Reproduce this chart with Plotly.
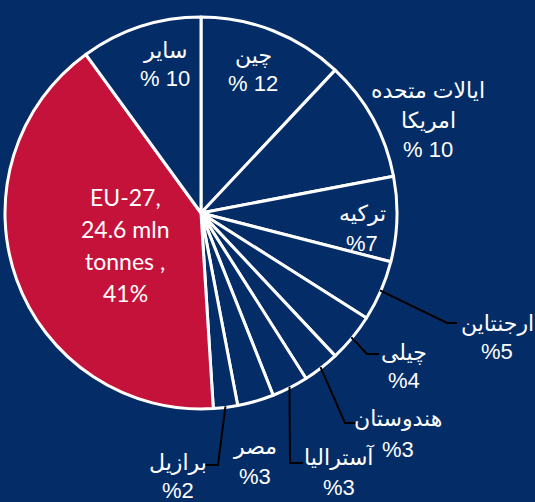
import math
import plotly.graph_objects as go

# ---- data ----
names = ["چین", "ایالات متحده امریکا", "ترکیه", "ارجنتاین", "چیلی", "هندوستان",
         "آسترالیا", "مصر", "برازیل", "EU-27", "سایر"]
values = [12, 10, 7, 5, 4, 3, 3, 3, 2, 41, 10]
label_lines = [
    ["چین", "% 12"],
    ["ایالات متحده", "امریکا", "% 10"],
    ["ترکیه", "%7"],
    ["ارجنتاین", "%5"],
    ["چیلی", "%4"],
    ["هندوستان", "%3"],
    ["آسترالیا", "%3"],
    ["مصر", "%3"],
    ["برازیل", "%2"],
    ["EU-27,", "24.6 mln", "tonnes ,", "41%"],
    ["سایر", "% 10"],
]

# ---- styling / layout ----
W, H = 535, 502
BG = "#042d68"
NAVY = "#042d68"
RED = "#c5123a"
colors = [RED if n == "EU-27" else NAVY for n in names]

CX, CY, R = 201, 213, 196  # pixel center and radius of the pie

def px(x):
    return x / W

def py(y):
    return 1 - y / H

fig = go.Figure(go.Pie(
    labels=names, values=values, sort=False, direction="clockwise", rotation=0,
    marker=dict(colors=colors, line=dict(color="white", width=3)),
    textinfo="none", hoverinfo="label+percent",
    domain=dict(x=[px(CX - R), px(CX + R)], y=[py(CY + R), py(CY - R)]),
))

# label placement (pixel centre of first line, line spacing)
label_pos = {
    "چین": (253, 55, 29),
    "ایالات متحده امریکا": (428, 90, 30),
    "ترکیه": (362, 213, 30),
    "ارجنتاین": (497, 323, 28),
    "چیلی": (404, 352, 28),
    "هندوستان": (398, 418, 31),
    "آسترالیا": (339, 457, 30),
    "مصر": (255, 446, 30),
    "برازیل": (178, 462, 28),
    "EU-27": (125, 197, 32),
    "سایر": (165, 50, 29),
}

ARIAL = "Liberation Sans, Arial, DejaVu Sans, sans-serif"
annotations = []
for n, lines in zip(names, label_lines):
    x, y0, dy = label_pos[n]
    is_eu = n == "EU-27"
    for i, t in enumerate(lines):
        annotations.append(dict(
            x=px(x), y=py(y0 + i * dy), xref="paper", yref="paper",
            text=t, showarrow=False, xanchor="center", yanchor="middle",
            font=dict(family="Lato, Open Sans, sans-serif" if is_eu else ARIAL,
                      size=23 if is_eu else 22, color="white"),
        ))

# leader lines: start on the slice edge (computed from data), elbow to label
elbows = {
    "ارجنتاین": [(447, 323), (457, 323)],
    "چیلی": [(367, 354), (379, 354)],
    "هندوستان": [(345, 423), (358, 423)],
    "آسترالیا": [(290, 463), (303, 463)],
    "برازیل": [(218, 465), (205, 465)],
}
total = sum(values)
cum = 0
shapes = []
for n, v in zip(names, values):
    mid = (cum + v / 2) / total * 2 * math.pi
    cum += v
    if n in elbows:
        sx = CX + R * 0.995 * math.sin(mid)
        sy = CY - R * 0.995 * math.cos(mid)
        pts = [(sx, sy)] + elbows[n]
        path = "M " + " L ".join(f"{px(a)},{py(b)}" for a, b in pts)
        shapes.append(dict(type="path", xref="paper", yref="paper", path=path,
                           line=dict(color="black", width=2)))

fig.update_layout(
    width=W, height=H, margin=dict(l=0, r=0, t=0, b=0),
    paper_bgcolor=BG, plot_bgcolor=BG, showlegend=False,
    annotations=annotations, shapes=shapes,
)

fig.write_html(
    "out.html",
    config={"displayModeBar": False},
    post_script="document.body.style.margin='0';document.body.style.overflow='hidden';"
                "document.body.style.background='" + BG + "';",
)
